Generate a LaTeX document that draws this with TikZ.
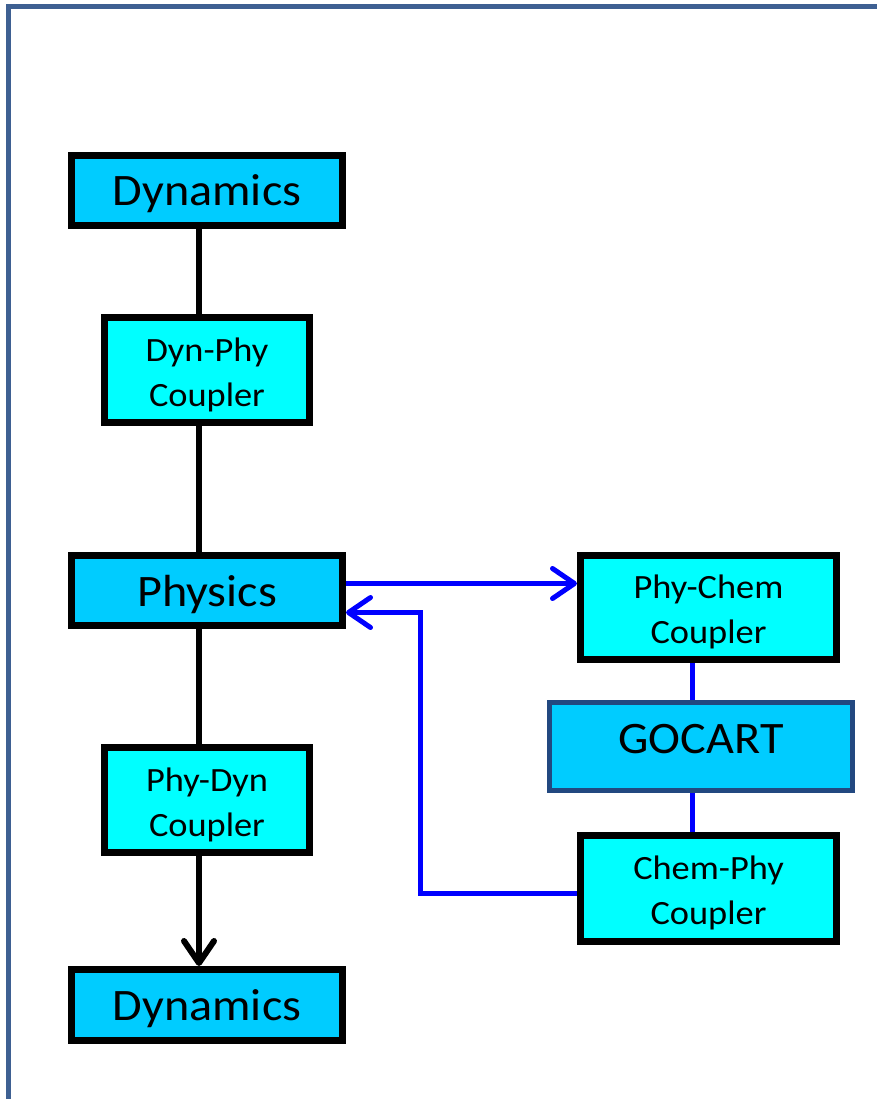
\documentclass[tikz,border=0pt]{standalone}
\usepackage{fontspec}
\setmainfont{Carlito}[FakeStretch=1.07]
\usetikzlibrary{arrows.meta}
\definecolor{deepsky}{RGB}{0,204,255}
\definecolor{lightcyan}{RGB}{0,255,255}
\definecolor{framecol}{RGB}{62,96,146}
\definecolor{gocartline}{RGB}{34,72,128}
\newcommand{\cpad}{\rule{0pt}{33pt}}
\tikzset{
  bigbox/.style={draw=black,line width=7pt,fill=deepsky,inner sep=0pt,
    minimum width=271pt,minimum height=70pt,text height=40pt,text depth=9pt,
    font=\fontsize{45}{50}\selectfont},
  couplerbox/.style={draw=black,line width=7pt,fill=lightcyan,inner sep=0pt,
    align=center,font=\fontsize{34}{45}\selectfont},
  blackline/.style={line width=6pt},
  blueline/.style={blue,line width=5pt},
  barb/.style={-{Straight Barb[length=22pt,width=30pt,round]}}
}
\begin{document}
\begin{tikzpicture}[x=1pt,y=1pt]
  \useasboundingbox (0,0) rectangle (876,-1099);
  % frame
  \draw[framecol,line width=4.5pt] (8.5,-1110) |- (890,-6.5);
  % left column
  \node[bigbox] (dyn1) at (207,-190.5) {Dynamics};
  \node[couplerbox,minimum width=205pt,minimum height=105pt] (dp) at (207,-370)
  {\cpad Dyn-Phy\\Coupler};
  \node[bigbox] (phys) at (207,-590.5) {Physics};
  \node[couplerbox,minimum width=205pt,minimum height=105pt] (pd) at (207,-800)
  {\cpad Phy-Dyn\\Coupler};
  \node[bigbox,minimum height=71pt] (dyn2) at (207,-1005) {Dynamics};
  % right column
  \node[couplerbox,minimum width=256pt,minimum height=104pt] (pc) at (708.5,-607.5)
  {\cpad Phy-Chem\\Coupler};
  \node[draw=gocartline,line width=5pt,fill=deepsky,inner sep=0pt,minimum width=303pt,
  minimum height=88pt,text height=29pt,text depth=16pt,
  font=\fontsize{45}{50}\selectfont] (gocart) at (701,-746.5) {GOCART};
  \node[couplerbox,minimum width=256pt,minimum height=106pt] (cp) at (708.5,-888.5)
  {\cpad Chem-Phy\\Coupler};
  % black connectors
  \draw[blackline] ([xshift=-8pt]dyn1.south) -- ([xshift=-8pt]dp.north);
  \draw[blackline] ([xshift=-8pt]dp.south) -- ([xshift=-8pt]phys.north);
  \draw[blackline] ([xshift=-8pt]phys.south) -- ([xshift=-8pt]pd.north);
  \draw[blackline,barb] ([xshift=-8pt]pd.south) -- ([xshift=-8pt]dyn2.north);
  % blue connectors
  \draw[blueline,barb] ([yshift=7pt]phys.east) -- ([yshift=7pt]phys.east -| pc.west);
  \draw[blueline,barb] ([yshift=-4.5pt]cp.west) -- ++(-157,0)
  |- ([yshift=-22pt]phys.east);
  \draw[blueline] ([xshift=-16pt]pc.south) -- ([xshift=-16pt]pc.south |- gocart.north);
  \draw[blueline] ([xshift=-16pt]cp.north) -- ([xshift=-16pt]cp.north |- gocart.south);
\end{tikzpicture}
\end{document}
